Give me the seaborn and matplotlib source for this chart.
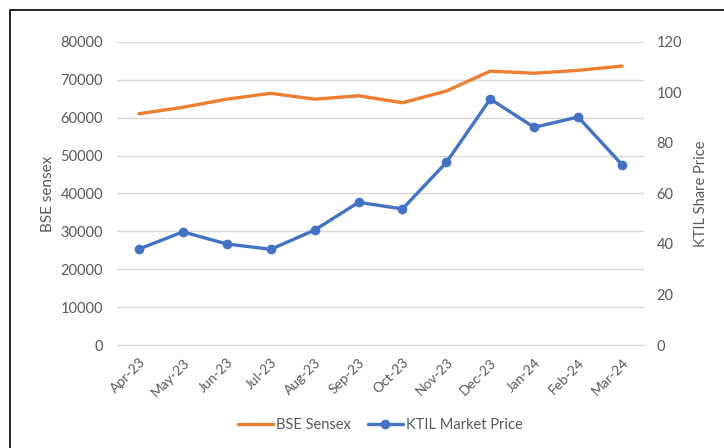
import matplotlib
matplotlib.use("Agg")
import matplotlib.pyplot as plt
import seaborn as sns
import pandas as pd
import numpy as np
from matplotlib.patches import Rectangle

months = ['Apr-23', 'May-23', 'Jun-23', 'Jul-23', 'Aug-23', 'Sep-23',
          'Oct-23', 'Nov-23', 'Dec-23', 'Jan-24', 'Feb-24', 'Mar-24']
bse_sensex = [61050, 62750, 64900, 66450, 64900, 65800,
              63950, 67050, 72300, 71750, 72500, 73650]
ktil_price = [38.0, 44.8, 40.0, 37.9, 45.5, 56.5,
              53.9, 72.3, 97.4, 86.2, 90.3, 71.4]

df = pd.DataFrame({'Month': months, 'BSE Sensex': bse_sensex, 'KTIL Market Price': ktil_price})

sns.set_style("white")
plt.rcParams['font.family'] = ['Lato', 'DejaVu Sans']

grey_txt = '#595959'
grid_col = '#d9d9d9'
orange = '#ED7D31'
blue = '#4472C4'

fig = plt.figure(figsize=(7.24, 4.48), dpi=100)
ax = fig.add_axes([0.1616, 0.2299, 0.7279, 0.6764])
ax2 = ax.twinx()

sns.lineplot(data=df, x='Month', y='BSE Sensex', color=orange, linewidth=2.4,
             sort=False, ax=ax, label='BSE Sensex', legend=False)
sns.lineplot(data=df, x='Month', y='KTIL Market Price', color=blue, linewidth=2.4,
             marker='o', markersize=7, markeredgewidth=0, sort=False, ax=ax2,
             label='KTIL Market Price', legend=False)

n = len(months)
ax.set_xlim(-0.5, n - 0.5)
ax.set_ylim(0, 80000)
ax.set_yticks(np.arange(0, 80001, 10000))
ax2.set_ylim(0, 120)
ax2.set_yticks(np.arange(0, 121, 20))

ax.yaxis.grid(True, color=grid_col, linewidth=1)
ax.set_axisbelow(True)

ax.set_xticks(range(n))
ax.set_xticklabels(months, rotation=45, ha='right', rotation_mode='anchor')
ax.set_xticks(np.arange(-0.5, n, 1), minor=True)
ax.tick_params(axis='x', which='major', length=0, pad=8, labelsize=10, labelcolor=grey_txt)
ax.tick_params(axis='x', which='minor', length=5, color=grid_col, width=1, direction='out')
ax.tick_params(axis='y', length=0, pad=10, labelsize=10.5, labelcolor=grey_txt)
ax2.tick_params(axis='y', length=0, pad=9, labelsize=10.5, labelcolor=grey_txt)

for a in (ax, ax2):
    for s in ('top', 'left', 'right'):
        a.spines[s].set_visible(False)
    a.spines['bottom'].set_color(grid_col)
ax2.spines['bottom'].set_visible(False)

ax.set_xlabel('')
ax.set_ylabel('BSE sensex', fontsize=11, color=grey_txt, labelpad=4)
ax2.set_ylabel('KTIL Share Price', fontsize=10.5, color=grey_txt, rotation=90, labelpad=9)

h1, l1 = ax.get_legend_handles_labels()
h2, l2 = ax2.get_legend_handles_labels()
fig.legend(h1 + h2, l1 + l2, loc='center', bbox_to_anchor=(0.525, 0.052), ncol=2,
           frameon=False, fontsize=10.5, labelcolor=grey_txt, handlelength=2.4,
           handletextpad=0.2, columnspacing=1.2)

fig.patches.append(Rectangle((10 / 724, -0.05), 1.1, 1 - 10 / 448 + 0.05,
                             transform=fig.transFigure, fill=False,
                             edgecolor='black', linewidth=1.2))

fig.savefig('out.png', dpi=100)
